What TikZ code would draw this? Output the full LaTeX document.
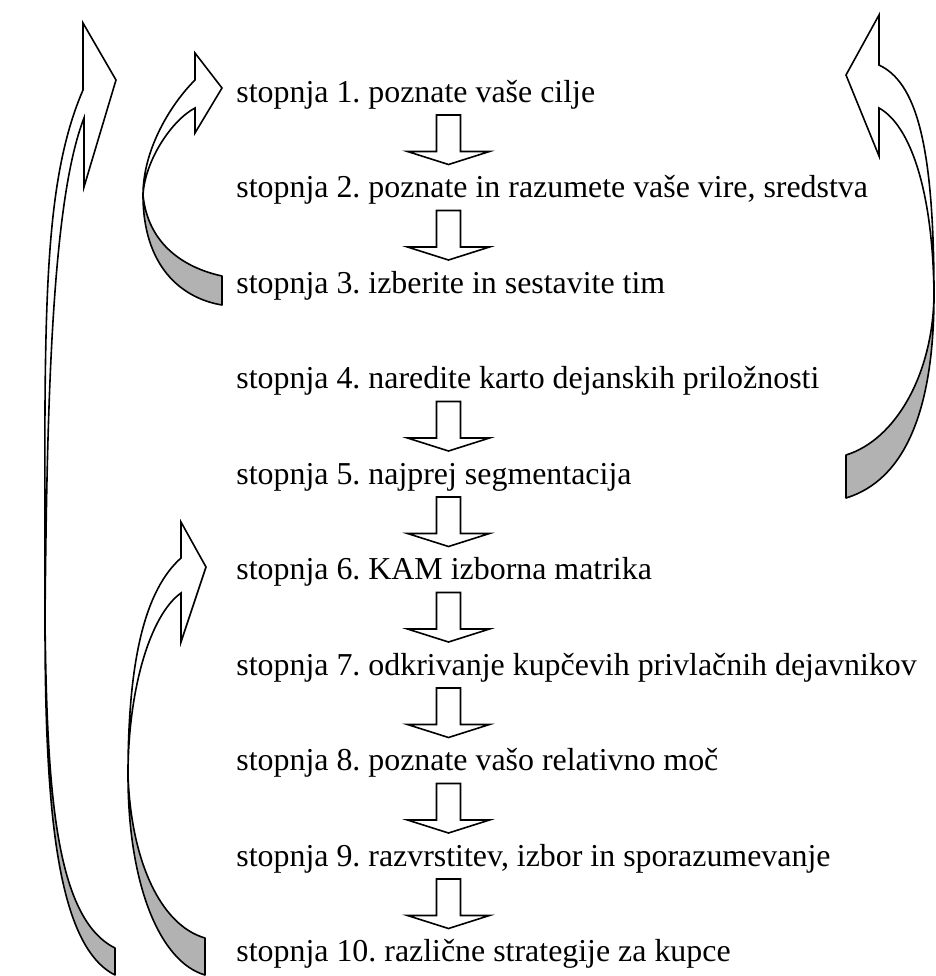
\documentclass[tikz,border=0pt]{standalone}
\usepackage{fontspec}
\setmainfont{Liberation Serif}
\usepackage{tikz}
\usetikzlibrary{positioning}
\definecolor{RibbonBack}{RGB}{178,178,178}
\frenchspacing

\begin{document}
\begin{tikzpicture}[x=0.5pt,y=-0.5pt,
    stage/.style={anchor=base west, inner sep=0pt, font=\fontsize{15.95}{19}\selectfont},
    blockarrow/.style={draw, line width=0.8pt, fill=white, line join=miter},
    ribbonback/.style={draw, line width=0.8pt, fill=RibbonBack, line join=round},
    ribbonfront/.style={draw, line width=0.8pt, fill=white, line join=miter}]
  \useasboundingbox (0,0) rectangle (936,976);

  \node[stage] (s1) at (236,102) {stopnja 1. poznate vaše cilje};
  \node[below=47.75pt of s1.base west, stage] (s2) {stopnja 2. poznate in razumete vaše vire, sredstva};
  \node[below=47.75pt of s2.base west, stage] (s3) {stopnja 3. izberite in sestavite tim};
  \node[below=47.75pt of s3.base west, stage] (s4) {stopnja 4. naredite karto dejanskih priložnosti};
  \node[below=47.75pt of s4.base west, stage] (s5) {stopnja 5. najprej segmentacija};
  \node[below=47.75pt of s5.base west, stage] (s6) {stopnja 6. KAM izborna matrika};
  \node[below=47.75pt of s6.base west, stage] (s7) {stopnja 7. odkrivanje kupčevih privlačnih dejavnikov};
  \node[below=47.75pt of s7.base west, stage] (s8) {stopnja 8. poznate vašo relativno moč};
  \node[below=47.75pt of s8.base west, stage] (s9) {stopnja 9. razvrstitev, izbor in sporazumevanje};
  \node[below=47.75pt of s9.base west, stage] (s10) {stopnja 10. različne strategije za kupce};

  \foreach \a/\b in {1/2,2/3,4/5,5/6,6/7,7/8,8/9,9/10} {
    \coordinate (top) at ([shift={(212.5,13)}]s\a.base west);
    \coordinate (tip) at ([shift={(212.5,-33)}]s\b.base west);
    \draw[blockarrow] ([xshift=-6pt]top) -- ([xshift=6pt]top) -- ([shift={(12,-13)}]tip)
      -- ([shift={(41,-13)}]tip) -- (tip) -- ([shift={(-41,-13)}]tip) -- ([shift={(-12,-13)}]tip) -- cycle;
  }

  % big loop, left
  \draw[ribbonback] (45,620) .. controls (45,800) and (55,945) .. (115,975) -- (115,948)
    .. controls (55,918) and (47,790) .. (45,620) -- cycle;
  \draw[ribbonfront] (45,620) .. controls (45,330) and (40,190) .. (83,90) -- (83,23) -- (116,80)
    -- (84,187) -- (84,118) .. controls (52,200) and (47,400) .. (45,620) -- cycle;

  % small loop, stages 1-3
  \draw[ribbonback] (143,195) .. controls (143,265) and (180,298) .. (222,305) -- (222,276)
    .. controls (185,268) and (148,245) .. (143,195) -- cycle;
  \draw[ribbonfront] (143,195) .. controls (143,150) and (170,105) .. (195,80) -- (195,53) -- (222,88)
    -- (195,133) -- (195,108) .. controls (172,120) and (145,160) .. (143,195) -- cycle;

  % loop, stages 6-10
  \draw[ribbonback] (128,775) .. controls (128,885) and (160,962) .. (205,975) -- (205,938)
    .. controls (160,925) and (131,860) .. (128,775) -- cycle;
  \draw[ribbonfront] (128,775) .. controls (128,660) and (145,590) .. (181,558) -- (181,522) -- (206,567)
    -- (181,642) -- (181,593) .. controls (150,615) and (128,690) .. (128,775) -- cycle;

  % loop, right
  \draw[ribbonback] (934,295) .. controls (934,410) and (905,480) .. (846,498) -- (846,455)
    .. controls (895,440) and (933,375) .. (934,295) -- cycle;
  \draw[ribbonfront] (934,295) .. controls (934,140) and (915,82) .. (879,65) -- (879,15) -- (846,75)
    -- (879,156) -- (879,108) .. controls (910,125) and (933,190) .. (934,295) -- cycle;
\end{tikzpicture}
\end{document}
